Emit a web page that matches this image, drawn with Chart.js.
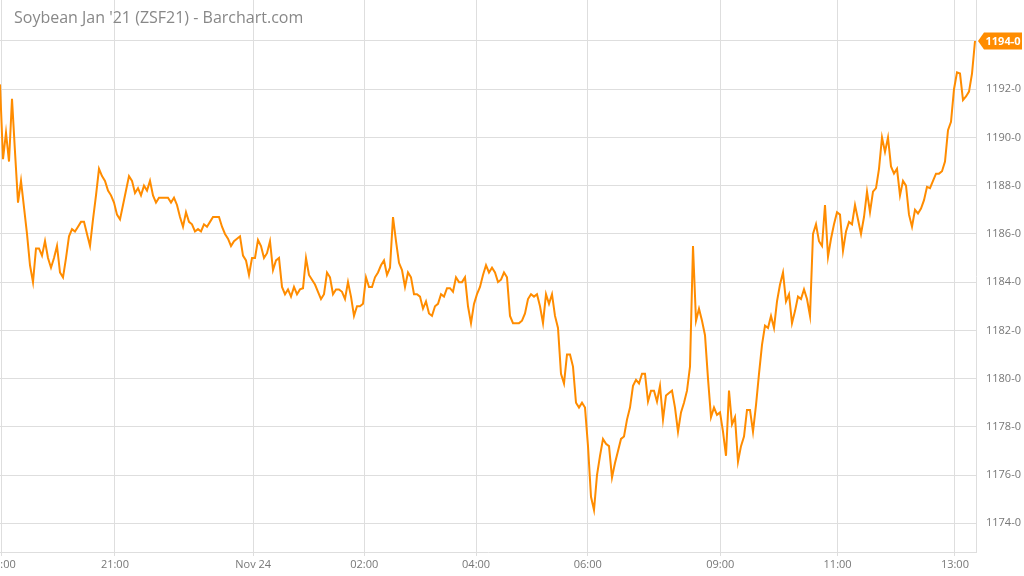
<!DOCTYPE html>
<html>
<head>
<meta charset="utf-8">
<script src="https://cdn.jsdelivr.net/npm/chart.js@4"></script>
<style>
  html, body { margin: 0; padding: 0; background: #fff; }
  #wrap { position: relative; width: 1024px; height: 576px; }
  #title {
    position: absolute; left: 14px; top: 6px;
    font: 16px "Open Sans", sans-serif; color: #888;
    pointer-events: none;
  }
</style>
</head>
<body>
<div id="wrap">
  <canvas id="chart"></canvas>
  <div id="title">Soybean Jan '21 (ZSF21) - Barchart.com</div>
</div>
<script>
// one value per bar
const PRICES = [
  1192.2, 1189.1, 1190.2, 1189.0, 1191.6, 1189.4, 1187.3, 1188.2, 1187.1, 1186.0,
  1184.7, 1184.0, 1185.4, 1185.4, 1185.1, 1185.7, 1185.0, 1184.6, 1185.0, 1185.5,
  1184.4, 1184.2, 1185.0, 1185.9, 1186.2, 1186.1, 1186.3, 1186.5, 1186.5, 1186.0,
  1185.5, 1186.6, 1187.6, 1188.7, 1188.4, 1188.2, 1187.8, 1187.6, 1187.3, 1186.8,
  1186.6, 1187.2, 1187.8, 1188.4, 1188.2, 1187.7, 1187.9, 1187.6, 1188.0, 1187.8,
  1188.2, 1187.6, 1187.3, 1187.5, 1187.5, 1187.5, 1187.5, 1187.3, 1187.5, 1187.2,
  1186.7, 1186.3, 1186.9, 1186.5, 1186.4, 1186.1, 1186.2, 1186.1, 1186.4, 1186.3,
  1186.5, 1186.7, 1186.7, 1186.7, 1186.3, 1186.0, 1185.8, 1185.5, 1185.7, 1185.8,
  1185.9, 1185.1, 1184.9, 1184.3, 1185.0, 1185.0, 1185.75, 1185.5, 1185.0, 1185.2,
  1185.7, 1184.5, 1184.9, 1185.0, 1183.8, 1183.5, 1183.7, 1183.4, 1183.8, 1183.5,
  1183.7, 1183.75, 1185.0, 1184.3, 1184.1, 1183.9, 1183.6, 1183.3, 1183.5, 1184.4,
  1184.2, 1183.5, 1183.7, 1183.7, 1183.6, 1183.3, 1184.0, 1183.4, 1182.6, 1183.0,
  1183.0, 1183.1, 1184.2, 1183.8, 1183.8, 1184.2, 1184.4, 1184.7, 1184.9, 1184.3,
  1184.6, 1186.7, 1185.7, 1184.8, 1184.5, 1183.8, 1184.4, 1184.2, 1183.5, 1183.5,
  1183.4, 1182.9, 1183.2, 1182.7, 1182.6, 1183.0, 1183.1, 1183.5, 1183.4, 1183.75,
  1183.75, 1183.6, 1184.2, 1184.0, 1184.0, 1184.2, 1183.0, 1182.3, 1183.1, 1183.5,
  1183.8, 1184.3, 1184.7, 1184.4, 1184.6, 1184.4, 1184.0, 1184.1, 1184.4, 1184.2,
  1182.6, 1182.3, 1182.3, 1182.3, 1182.4, 1182.7, 1183.3, 1183.5, 1183.4, 1183.5,
  1183.0, 1182.3, 1183.5, 1183.1, 1183.5, 1182.6, 1182.1, 1180.2, 1179.8, 1181.0,
  1181.0, 1180.5, 1179.0, 1178.8, 1179.0, 1178.8, 1177.2, 1175.1, 1174.55, 1176.0,
  1176.8, 1177.5, 1177.3, 1177.2, 1175.9, 1176.5, 1177.0, 1177.5, 1177.6, 1178.3,
  1178.8, 1179.7, 1179.95, 1179.8, 1180.2, 1180.2, 1179.05, 1179.5, 1179.5, 1179.05,
  1179.7, 1178.3, 1179.3, 1179.4, 1179.5, 1178.8, 1177.8, 1178.6, 1179.0, 1179.5,
  1180.5, 1185.5, 1182.4, 1182.9, 1182.4, 1181.8, 1180.0, 1178.4, 1178.8, 1178.5,
  1178.6, 1177.8, 1176.8, 1179.5, 1178.1, 1178.4, 1176.55, 1177.2, 1177.6, 1178.7,
  1178.7, 1177.8, 1178.9, 1180.2, 1181.4, 1182.2, 1182.1, 1182.6, 1182.1, 1183.2,
  1183.9, 1184.4, 1183.2, 1183.5, 1182.3, 1182.8, 1183.4, 1183.3, 1183.7, 1183.3,
  1182.6, 1186.0, 1186.4, 1185.7, 1185.5, 1187.2, 1185.05, 1185.8, 1186.4, 1186.9,
  1186.8, 1185.3, 1186.1, 1186.5, 1186.4, 1187.2, 1186.6, 1186.0, 1186.7, 1187.75,
  1186.9, 1187.75, 1187.9, 1188.7, 1190.0, 1189.4, 1190.0, 1188.8, 1188.5, 1188.7,
  1187.6, 1188.2, 1188.0, 1186.8, 1186.3, 1187.0, 1186.85, 1187.05, 1187.4, 1187.95,
  1187.9, 1188.2, 1188.5, 1188.5, 1188.6, 1189.0, 1190.3, 1190.65, 1192.0, 1192.7,
  1192.65, 1191.55, 1191.7, 1191.9, 1192.65, 1194.0
]

// bar index where each time label sits (sessions are not evenly spaced in time)
const TICK_BARS   = [0.6, 38.3, 84.4, 121.4, 158.7, 195.9, 240.1, 279.2, 318.3]
const TICK_LABELS = ['20:00', '21:00', 'Nov 24', '02:00', '04:00', '06:00', '09:00', '11:00', '13:00']
const Y_TICKS     = [1174, 1176, 1178, 1180, 1182, 1184, 1186, 1188, 1190, 1192, 1194]

const ORANGE = '#ff8c00'
const GRID   = '#dedede'
const FONT   = '"Open Sans", sans-serif'

function fmtPrice(v) {
  const whole = Math.floor(v)
  return `${whole}-${Math.round((v - whole) * 8)}`
}

// orange "last price" tag on the right axis
const lastTag = {
  id: 'lastTag',
  afterDraw(chart) {
    const { ctx, chartArea, scales } = chart
    const last = PRICES[PRICES.length - 1]
    const y = scales.y.getPixelForValue(last)
    const x0 = chartArea.right + 2
    const x1 = chart.width - 2
    const h = 17
    ctx.save()
    ctx.fillStyle = ORANGE
    ctx.beginPath()
    ctx.moveTo(x0, y)
    ctx.lineTo(x0 + 6, y - h / 2)
    ctx.lineTo(x1, y - h / 2)
    ctx.lineTo(x1, y + h / 2)
    ctx.lineTo(x0 + 6, y + h / 2)
    ctx.closePath()
    ctx.fill()
    ctx.fillStyle = '#fff'
    ctx.font = `bold 11px ${FONT}`
    ctx.textAlign = 'center'
    ctx.textBaseline = 'middle'
    ctx.fillText(fmtPrice(last), (x0 + 6 + x1) / 2, y + 0.5)
    ctx.restore()
  },
}

new Chart(document.getElementById('chart'), {
  type: 'line',
  data: {
    datasets: [{
      data: PRICES.map((p, i) => ({ x: i, y: p })),
      borderColor: ORANGE,
      borderWidth: 2,
      pointRadius: 0,
      tension: 0,
      fill: false,
    }],
  },
  options: {
    responsive: true,
    maintainAspectRatio: false,
    animation: false,
    layout: { padding: 0 },
    plugins: {
      legend: { display: false },
      tooltip: { enabled: false },
    },
    scales: {
      x: {
        type: 'linear',
        min: 0,
        max: 976 / 3,
        afterBuildTicks: s => { s.ticks = TICK_BARS.map(v => ({ value: v })) },
        afterFit: s => { s.height = 24; s.paddingLeft = 0; s.paddingRight = 0 },
        grid: { color: GRID, tickLength: 4, drawTicks: true },
        border: { color: GRID },
        ticks: {
          autoSkip: false,
          maxRotation: 0,
          padding: 2,
          color: '#777',
          font: { family: FONT, size: 11 },
          callback: v => TICK_LABELS[TICK_BARS.indexOf(v)] ?? '',
        },
      },
      y: {
        position: 'right',
        min: 1172.81,
        max: 1195.7,
        afterBuildTicks: s => { s.ticks = Y_TICKS.map(v => ({ value: v })) },
        afterFit: s => { s.width = 48; s.paddingTop = 0; s.paddingBottom = 0 },
        grid: { color: GRID, drawTicks: false },
        border: { color: GRID },
        ticks: {
          padding: 10,
          color: '#777',
          font: { family: FONT, size: 11 },
          callback: v => fmtPrice(v),
        },
      },
    },
  },
  plugins: [lastTag],
})
</script>
</body>
</html>
